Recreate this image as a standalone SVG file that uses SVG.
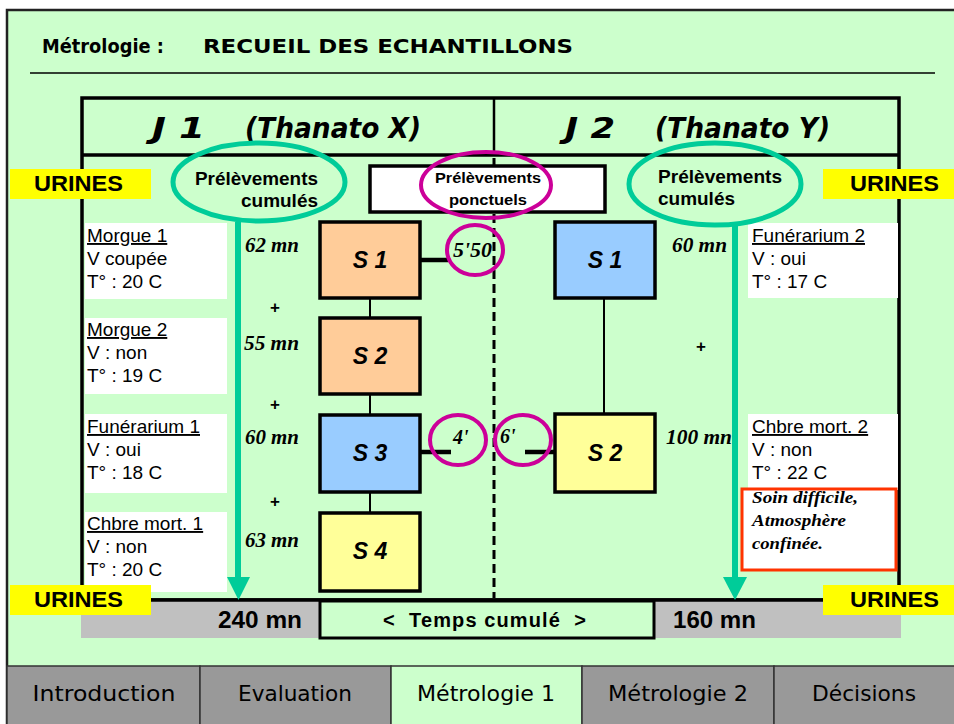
<svg xmlns="http://www.w3.org/2000/svg" width="954" height="724" viewBox="0 0 954 724">
<defs>
<style>
.comic{font-family:"Comic Sans MS","DejaVu Sans",sans-serif;fill:#000}
.ar{font-family:"Liberation Sans",Arial,sans-serif;fill:#000}
.b{font-weight:bold}
.tm{font-family:"Liberation Serif","Times New Roman",serif;font-weight:bold;font-style:italic;fill:#000}
.box{stroke:#000;stroke-width:3.5}
.info{fill:#fff}
.urines{fill:#FFFF00}
.teal{fill:none;stroke:#00CC99;stroke-width:5}
.mag{fill:none;stroke:#CC0099;stroke-width:4}
.sl{font-family:"Liberation Sans",Arial,sans-serif;font-weight:bold;font-style:italic;font-size:23px;text-anchor:middle}
.it{font-family:"Liberation Sans",Arial,sans-serif;font-size:19px}
.tab{stroke:#333;stroke-width:1.5}
</style>
</defs>
<rect x="0" y="0" width="954" height="724" fill="#fff"/>
<rect x="7" y="10" width="960" height="730" fill="#CCFFCC" stroke="#222" stroke-width="2.5"/>

<g id="title">
<text class="comic b" x="42" y="53" font-size="20" textLength="122" lengthAdjust="spacingAndGlyphs">Métrologie :</text>
<text class="comic b" x="203" y="53" font-size="20" textLength="370" lengthAdjust="spacingAndGlyphs">RECUEIL DES ECHANTILLONS</text>
<line x1="30" y1="73" x2="935" y2="73" stroke="#000" stroke-width="1.5"/>
</g>

<g id="table">
<rect x="82" y="98" width="817" height="502" fill="#CCFFCC" stroke="#000" stroke-width="3.5"/>
<line x1="82" y1="155" x2="899" y2="155" stroke="#000" stroke-width="3.5"/>
<line x1="494" y1="98" x2="494" y2="155" stroke="#000" stroke-width="2.5"/>
<line x1="494" y1="158" x2="494" y2="598" stroke="#000" stroke-width="3" stroke-dasharray="9,5"/>
<text class="comic b" x="152" y="138" font-size="28" font-style="italic" textLength="53" lengthAdjust="spacingAndGlyphs">J 1</text>
<text class="comic b" x="245" y="138" font-size="28" font-style="italic" textLength="176" lengthAdjust="spacingAndGlyphs">(Thanato X)</text>
<text class="comic b" x="565" y="138" font-size="28" font-style="italic" textLength="50" lengthAdjust="spacingAndGlyphs">J 2</text>
<text class="comic b" x="655" y="138" font-size="28" font-style="italic" textLength="175" lengthAdjust="spacingAndGlyphs">(Thanato Y)</text>
</g>

<g id="bottom-row">
<rect x="81" y="601" width="239" height="37" fill="#C0C0C0"/>
<rect x="654" y="601" width="247" height="37" fill="#C0C0C0"/>
<line x1="82" y1="600" x2="900" y2="600" stroke="#000" stroke-width="3.5"/>
<rect id="temps" x="320" y="601" width="334" height="37" fill="#CCFFCC" stroke="#000" stroke-width="3"/>
<text class="ar b" x="218" y="628" font-size="23" textLength="84" lengthAdjust="spacingAndGlyphs">240 mn</text>
<text class="ar b" x="383" y="627" font-size="20" textLength="203" lengthAdjust="spacing" style="white-space:pre">&lt;  Temps cumulé  &gt;</text>
<text class="ar b" x="673" y="628" font-size="23" textLength="83" lengthAdjust="spacingAndGlyphs">160 mn</text>
</g>

<g id="info-left">
<rect class="info" x="85" y="223" width="142" height="76"/>
<text class="it" x="87" y="242" text-decoration="underline">Morgue 1</text>
<text class="it" x="87" y="265">V coupée</text>
<text class="it" x="87" y="288">T° : 20 C</text>
<rect class="info" x="85" y="318" width="142" height="76"/>
<text class="it" x="87" y="336" text-decoration="underline">Morgue 2</text>
<text class="it" x="87" y="359">V : non</text>
<text class="it" x="87" y="382">T° : 19 C</text>
<rect class="info" x="85" y="414" width="142" height="79"/>
<text class="it" x="87" y="433" text-decoration="underline">Funérarium 1</text>
<text class="it" x="87" y="456">V : oui</text>
<text class="it" x="87" y="479">T° : 18 C</text>
<rect class="info" x="85" y="512" width="142" height="80"/>
<text class="it" x="87" y="530" text-decoration="underline">Chbre mort. 1</text>
<text class="it" x="87" y="553">V : non</text>
<text class="it" x="87" y="576">T° : 20 C</text>
</g>

<g id="info-right">
<rect class="info" x="748" y="223" width="150" height="75"/>
<text class="it" x="752" y="242" text-decoration="underline">Funérarium 2</text>
<text class="it" x="752" y="265">V : oui</text>
<text class="it" x="752" y="288">T° : 17 C</text>
<rect class="info" x="748" y="414" width="150" height="76"/>
<text class="it" x="752" y="433" text-decoration="underline">Chbre mort. 2</text>
<text class="it" x="752" y="456">V : non</text>
<text class="it" x="752" y="479">T° : 22 C</text>
<rect x="742" y="489" width="154" height="81" fill="#fff" stroke="#FF3300" stroke-width="3"/>
<text class="tm" x="752" y="503" font-size="17" textLength="106" lengthAdjust="spacingAndGlyphs">Soin difficile,</text>
<text class="tm" x="752" y="526" font-size="17" textLength="94" lengthAdjust="spacingAndGlyphs">Atmosphère</text>
<text class="tm" x="752" y="549" font-size="17" textLength="71" lengthAdjust="spacingAndGlyphs">confinée.</text>
</g>

<g id="connectors">
<line x1="370" y1="298" x2="370" y2="318" stroke="#000" stroke-width="2"/>
<line x1="370" y1="394" x2="370" y2="415" stroke="#000" stroke-width="2"/>
<line x1="370" y1="492" x2="370" y2="513" stroke="#000" stroke-width="2"/>
<line x1="604" y1="298" x2="604" y2="414" stroke="#000" stroke-width="2"/>
<line x1="420" y1="260" x2="448" y2="260" stroke="#000" stroke-width="4.5"/>
<line x1="420" y1="452" x2="451" y2="452" stroke="#000" stroke-width="4.5"/>
<line x1="525" y1="452" x2="555" y2="452" stroke="#000" stroke-width="4.5"/>
</g>

<g id="minutes">
<text class="tm" x="245" y="252" font-size="20" textLength="54" lengthAdjust="spacingAndGlyphs">62 mn</text>
<text class="tm" x="244" y="350" font-size="20" textLength="55" lengthAdjust="spacingAndGlyphs">55 mn</text>
<text class="tm" x="245" y="444" font-size="20" textLength="54" lengthAdjust="spacingAndGlyphs">60 mn</text>
<text class="tm" x="245" y="547" font-size="20" textLength="54" lengthAdjust="spacingAndGlyphs">63 mn</text>
<text class="tm" x="672" y="252" font-size="20" textLength="55" lengthAdjust="spacingAndGlyphs">60 mn</text>
<text class="tm" x="666" y="444" font-size="20" textLength="66" lengthAdjust="spacingAndGlyphs">100 mn</text>
<text class="ar b" x="275" y="313" font-size="17" text-anchor="middle">+</text>
<text class="ar b" x="275" y="410" font-size="17" text-anchor="middle">+</text>
<text class="ar b" x="275" y="507" font-size="17" text-anchor="middle">+</text>
<text class="ar b" x="701" y="352" font-size="17" text-anchor="middle">+</text>
</g>

<g id="S1-left">
<rect class="box" x="320" y="222" width="100" height="76" fill="#FFCC99"/>
<text class="sl" x="370" y="268">S 1</text>
</g>
<g id="S2-left">
<rect class="box" x="320" y="318" width="100" height="76" fill="#FFCC99"/>
<text class="sl" x="370" y="364">S 2</text>
</g>
<g id="S3-left">
<rect class="box" x="320" y="415" width="100" height="77" fill="#99CCFF"/>
<text class="sl" x="370" y="461">S 3</text>
</g>
<g id="S4-left">
<rect class="box" x="320" y="513" width="100" height="78" fill="#FFFF99"/>
<text class="sl" x="370" y="559">S 4</text>
</g>
<g id="S1-right">
<rect class="box" x="555" y="222" width="100" height="76" fill="#99CCFF"/>
<text class="sl" x="605" y="268">S 1</text>
</g>
<g id="S2-right">
<rect class="box" x="555" y="414" width="100" height="78" fill="#FFFF99"/>
<text class="sl" x="605" y="461">S 2</text>
</g>

<g id="ponctuel-marks">
<ellipse class="mag" cx="475" cy="250" rx="28" ry="25"/>
<text class="tm" x="453" y="257" font-size="20" textLength="39" lengthAdjust="spacingAndGlyphs">5'50</text>
<ellipse class="mag" cx="458" cy="440" rx="28" ry="25"/>
<text class="tm" x="453" y="444" font-size="20">4'</text>
<ellipse class="mag" cx="523" cy="440" rx="28" ry="25"/>
<text class="tm" x="500" y="443" font-size="20">6'</text>
</g>

<g id="ponctuels">
<rect x="370" y="166" width="235" height="46" fill="#fff" stroke="#000" stroke-width="3.5"/>
<ellipse class="mag" cx="486" cy="185" rx="65" ry="33"/>
<text class="ar b" x="435" y="183" font-size="15.5" textLength="106" lengthAdjust="spacingAndGlyphs">Prélèvements</text>
<text class="ar b" x="449" y="205" font-size="15.5" textLength="78" lengthAdjust="spacingAndGlyphs">ponctuels</text>
</g>

<g id="cumules-left">
<line x1="238" y1="222" x2="238" y2="580" stroke="#00CC99" stroke-width="6"/>
<polygon points="227,577 250,577 238.5,600" fill="#00CC99"/>
<ellipse class="teal" cx="259" cy="182" rx="86" ry="39"/>
<text class="ar b" x="195" y="185" font-size="17.5" textLength="123" lengthAdjust="spacingAndGlyphs">Prélèvements</text>
<text class="ar b" x="241" y="207" font-size="17.5" textLength="77" lengthAdjust="spacingAndGlyphs">cumulés</text>
</g>

<g id="cumules-right">
<line x1="735" y1="226" x2="735" y2="580" stroke="#00CC99" stroke-width="6"/>
<polygon points="723,577 747,577 735,600" fill="#00CC99"/>
<ellipse class="teal" cx="715" cy="184" rx="86" ry="41"/>
<text class="ar b" x="658" y="183" font-size="17.5" textLength="124" lengthAdjust="spacingAndGlyphs">Prélèvements</text>
<text class="ar b" x="658" y="205" font-size="17.5" textLength="77" lengthAdjust="spacingAndGlyphs">cumulés</text>
</g>

<g id="urines">
<rect class="urines" x="10" y="169" width="141" height="30"/>
<text class="ar b" x="34" y="191" font-size="22" textLength="89" lengthAdjust="spacingAndGlyphs">URINES</text>
<rect class="urines" x="823" y="169" width="131" height="30"/>
<text class="ar b" x="850" y="191" font-size="22" textLength="89" lengthAdjust="spacingAndGlyphs">URINES</text>
<rect class="urines" x="10" y="585" width="141" height="30"/>
<text class="ar b" x="34" y="607" font-size="22" textLength="89" lengthAdjust="spacingAndGlyphs">URINES</text>
<rect class="urines" x="823" y="585" width="131" height="30"/>
<text class="ar b" x="850" y="607" font-size="22" textLength="89" lengthAdjust="spacingAndGlyphs">URINES</text>
</g>

<g id="nav">
<rect class="tab" x="7" y="666" width="193" height="60" fill="#999999"/>
<rect class="tab" x="200" y="666" width="191" height="60" fill="#999999"/>
<rect class="tab" x="391" y="666" width="191" height="60" fill="#CCFFCC"/>
<rect class="tab" x="582" y="666" width="192" height="60" fill="#999999"/>
<rect class="tab" x="774" y="666" width="190" height="60" fill="#999999"/>
<text class="comic" x="104" y="701" font-size="22" text-anchor="middle" textLength="143" lengthAdjust="spacingAndGlyphs">Introduction</text>
<text class="comic" x="295" y="701" font-size="22" text-anchor="middle" textLength="114" lengthAdjust="spacingAndGlyphs">Evaluation</text>
<text class="comic" x="486" y="701" font-size="22" text-anchor="middle" textLength="138" lengthAdjust="spacingAndGlyphs">Métrologie 1</text>
<text class="comic" x="678" y="701" font-size="22" text-anchor="middle" textLength="140" lengthAdjust="spacingAndGlyphs">Métrologie 2</text>
<text class="comic" x="864" y="701" font-size="22" text-anchor="middle" textLength="104" lengthAdjust="spacingAndGlyphs">Décisions</text>
</g>
</svg>
